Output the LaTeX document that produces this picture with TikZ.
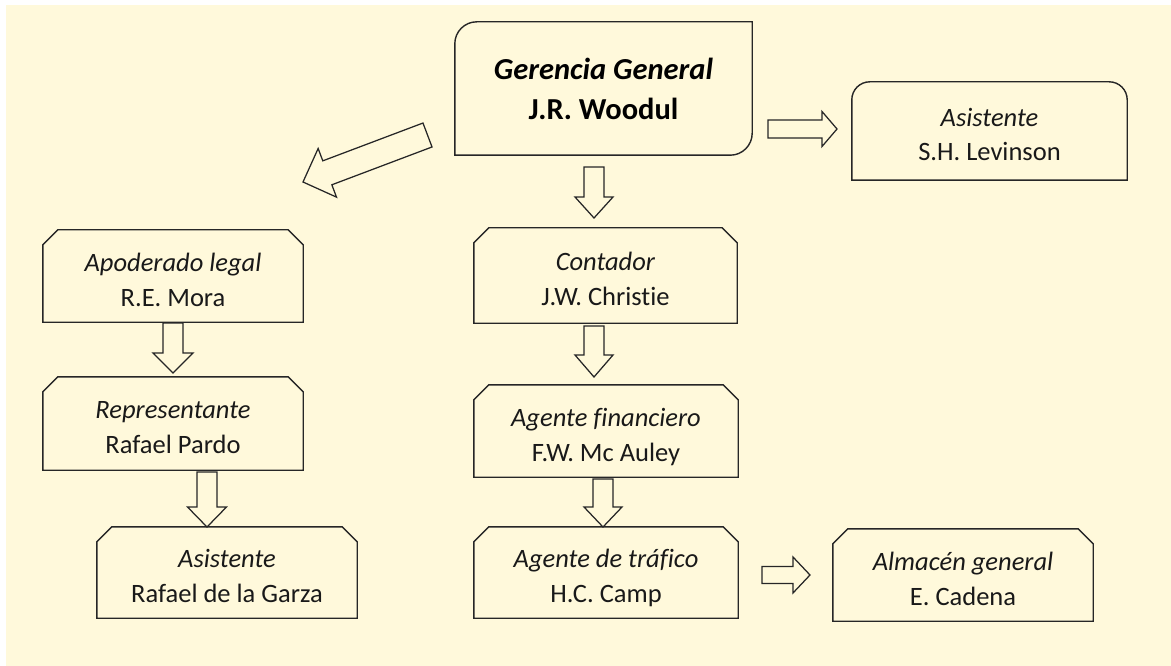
\documentclass[tikz,border=0pt]{standalone}
\usepackage{fontspec}
\setmainfont{Carlito}[Ligatures=CommonOff]
\usetikzlibrary{calc}
\definecolor{paper}{RGB}{255,249,219}
\definecolor{ink}{RGB}{38,38,38}

% box with the top corners cut off
\newcommand\snipbox[1]{%
  \draw[boxline] (#1.south west) -- ([yshift=-15pt]#1.north west)
    -- ([xshift=15pt]#1.north west) -- ([xshift=-15pt]#1.north east)
    -- ([yshift=-15pt]#1.north east) -- (#1.south east) -- cycle;}

% hollow block arrow: start, tip, shaft half width, head half width, head length
\newcommand\blockarrow[5]{%
  \coordinate (bh) at ($(#2)!#5!(#1)$);
  \draw[arrowline] ($(#1)!#3!90:(#2)$) -- ($(bh)!#3!90:(#2)$)
    -- ($(bh)!#4!90:(#2)$) -- (#2) -- ($(bh)!#4!-90:(#2)$)
    -- ($(bh)!#3!-90:(#2)$) -- ($(#1)!#3!-90:(#2)$) -- cycle;}

% two-line caption with fixed struts so every box sets its lines alike
\newcommand\twolines[2]{\rule{0pt}{32pt}\textit{#1}\\#2\rule[-7pt]{0pt}{7pt}}

\begin{document}
\begin{tikzpicture}[x=1pt,y=1pt,
  boxline/.style={draw=ink, line width=1.4pt, line join=miter},
  arrowline/.style={draw=ink, line width=1.25pt, line join=miter},
  label/.style={inner sep=0pt, align=center, text=black!90,
    font=\fontsize{26.5}{35}\selectfont},
  toplabel/.style={inner sep=0pt, align=center, text=black,
    font=\fontsize{30.5}{40}\selectfont\bfseries}]

% page
\fill[white] (0,0) rectangle (1171,-666);
\fill[paper] (6,-5) rectangle (1171,-666);
\useasboundingbox (0,0) rectangle (1171,-666);

% boxes
\node[toplabel, minimum width=297pt, minimum height=133pt] (ger) at (603.5,-88.5)
  {\textit{Gerencia General}\\J.R. Woodul};
\node[label, minimum width=275pt, minimum height=98pt] (lev) at (989.5,-131)
  {\twolines{Asistente}{S.H. Levinson}};
\node[label, minimum width=260pt, minimum height=92pt] (apo) at (173,-276)
  {\twolines{Apoderado legal}{R.E. Mora}};
\node[label, minimum width=260pt, minimum height=93pt] (rep) at (173,-423.5)
  {\twolines{Representante}{Rafael Pardo}};
\node[label, minimum width=260pt, minimum height=91pt] (gar) at (227,-572.5)
  {\twolines{Asistente}{Rafael de la Garza}};
\node[label, minimum width=263pt, minimum height=95pt] (con) at (605.5,-275.5)
  {\twolines{Contador}{J.W. Christie}};
\node[label, minimum width=264pt, minimum height=92pt] (fin) at (606,-431)
  {\twolines{Agente financiero}{F.W. Mc Auley}};
\node[label, minimum width=264pt, minimum height=91pt] (tra) at (606,-572.5)
  {\twolines{Agente de tráfico}{H.C. Camp}};
\node[label, minimum width=260pt, minimum height=92pt] (alm) at (963,-575)
  {\twolines{Almacén general}{E. Cadena}};

% outlines
\draw[boxline] (ger.south west) -- ([yshift=-22pt]ger.north west)
  arc[start angle=180, end angle=90, radius=22pt] -- (ger.north east)
  -- ([yshift=22pt]ger.south east)
  arc[start angle=0, end angle=-90, radius=22pt] -- cycle;
\draw[boxline] (lev.south west) -- ([yshift=-18pt]lev.north west)
  arc[start angle=180, end angle=90, radius=18pt] -- ([xshift=-18pt]lev.north east)
  arc[start angle=90, end angle=0, radius=18pt] -- (lev.south east) -- cycle;
\snipbox{apo}
\snipbox{rep}
\snipbox{gar}
\snipbox{con}
\snipbox{fin}
\snipbox{tra}
\snipbox{alm}

% arrow ends
\coordinate (gc1) at (594,-167);   \coordinate (gc2) at (594,-218);
\coordinate (cf1) at (594,-326);   \coordinate (cf2) at (594,-377);
\coordinate (ft1) at (603,-479);   \coordinate (ft2) at (603,-527);
\coordinate (ar1) at (173,-323);   \coordinate (ar2) at (173,-373);
\coordinate (rg1) at (207,-472);   \coordinate (rg2) at (207,-527);
\coordinate (gl1) at (768,-129);   \coordinate (gl2) at (837,-129);
\coordinate (ta1) at (762,-575);   \coordinate (ta2) at (810,-575);
\coordinate (ga1) at (427.5,-135); \coordinate (ga2) at (303,-182);

% arrows
\blockarrow{gc1}{gc2}{10pt}{19pt}{21pt}
\blockarrow{cf1}{cf2}{10pt}{19pt}{22pt}
\blockarrow{ft1}{ft2}{10pt}{19pt}{20pt}
\blockarrow{ar1}{ar2}{10pt}{20pt}{20pt}
\blockarrow{rg1}{rg2}{10pt}{19.5pt}{20pt}
\blockarrow{gl1}{gl2}{9pt}{17.5pt}{15pt}
\blockarrow{ta1}{ta2}{8.5pt}{18pt}{17pt}
\blockarrow{ga1}{ga2}{12.8pt}{26pt}{26pt}
\end{tikzpicture}
\end{document}
